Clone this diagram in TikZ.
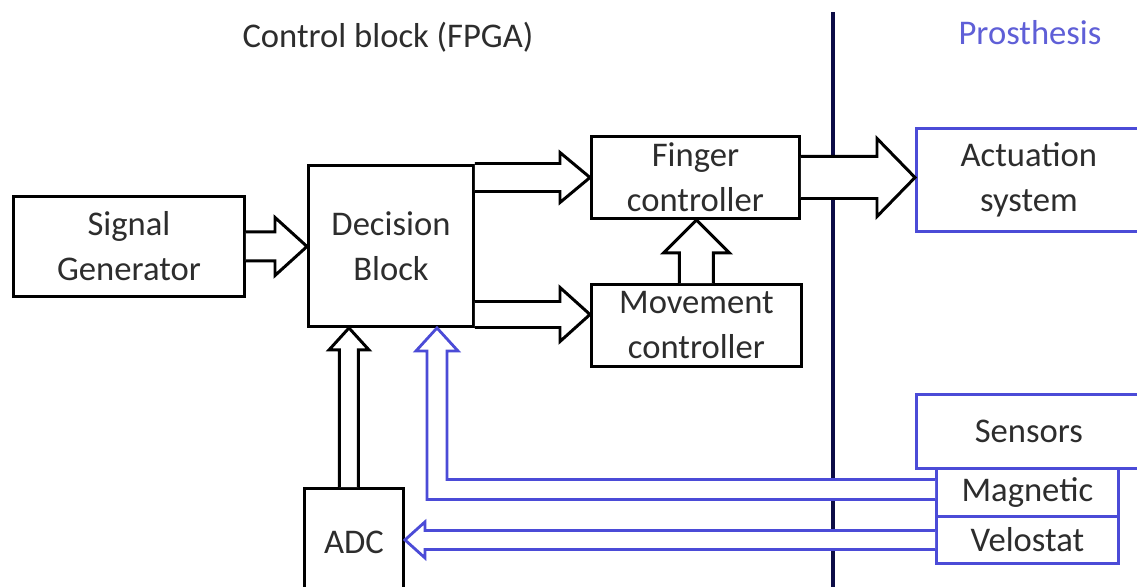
\documentclass[tikz,border=0pt]{standalone}
\usepackage{fontspec}
\setmainfont{Carlito}
\usetikzlibrary{calc}
\definecolor{txt}{RGB}{45,45,45}
\definecolor{bl}{RGB}{75,75,215}
\definecolor{navy}{RGB}{12,12,70}
\definecolor{ptxt}{RGB}{95,95,215}
\newcommand\hollowH[6]{\draw[#1] ($(#2)+(0,{-(#4)})$) -- ($(#3)+({-(#6)},{-(#4)})$) -- ($(#3)+({-(#6)},{-(#5)})$) -- (#3) -- ($(#3)+({-(#6)},{#5})$) -- ($(#3)+({-(#6)},{#4})$) -- ($(#2)+(0,{#4})$);}
\newcommand\hollowV[6]{\draw[#1] ($(#2)+({-(#4)},0)$) -- ($(#3)+({-(#4)},{#6})$) -- ($(#3)+({-(#5)},{#6})$) -- (#3) -- ($(#3)+({#5},{#6})$) -- ($(#3)+({#4},{#6})$) -- ($(#2)+({#4},0)$);}
\tikzset{
  box/.style={draw=black, line width=1.7pt, align=center, inner sep=0pt, text=txt,
    font=\fontsize{19.7}{25.6}\selectfont, anchor=north west},
  bbox/.style={box, draw=bl, line width=1.6pt},
  ttl/.style={inner sep=0pt, text=txt, font=\fontsize{19.7}{25.6}\selectfont},
  harr/.style={draw=black, fill=white, line width=1.7pt, line join=miter},
  barr/.style={draw=bl, fill=white, line width=1.6pt, line join=miter},
}
\begin{document}
\begin{tikzpicture}[x=0.02cm,y=-0.02cm]
\useasboundingbox (0,0) rectangle (1137,586);
\clip (0,0) rectangle (1137,586);
\fill[white] (0,0) rectangle (1137,586);
% divider
\draw[navy, line width=2.4pt] (833,12) -- (833,600);
% titles
\node[ttl] (t1) at (388,37) {Control block (FPGA)};
\node[ttl, text=ptxt] (t2) at (1030,33) {Prosthesis};
% boxes
\node[box, minimum width=4.62cm, minimum height=2cm] (sig) at (12,195) {Signal\\Generator};
\node[box, minimum width=3.3cm, minimum height=3.22cm] (dec) at (307,164) {Decision\\Block};
\node[box, minimum width=4.16cm, minimum height=1.64cm] (fin) at (590,135) {Finger\\controller};
\node[box, minimum width=4.2cm, minimum height=1.64cm] (mov) at (590,283) {Movement\\controller};
\node[box, minimum width=1.98cm, minimum height=2.16cm] (adc) at (303,487) {ADC};
\node[bbox, minimum width=4.5cm, minimum height=2.06cm] (act) at (915,127) {Actuation\\system};
\node[bbox, minimum width=4.5cm, minimum height=1.48cm] (sen) at (915,393) {Sensors};
\node[bbox, minimum width=3.64cm, minimum height=0.96cm] (mag) at (935,467) {Magnetic};
\node[bbox, minimum width=3.64cm, minimum height=0.94cm] (vel) at (935,515) {Velostat};
% helper coordinates
\coordinate (mt) at ($(mov.west)+(0,-11)$);
\coordinate (at) at ($(adc.north)+(-5,0)$);
\coordinate (mtip) at ($(dec.south)+(46,0)$);
\coordinate (mbase) at ($(mag.west)+(0,-3)$);
% black hollow arrows
\hollowH{harr}{sig.east}{dec.west|-sig.east}{14.5}{29}{32}
\hollowH{harr}{dec.east|-fin.west}{fin.west}{14}{25}{30}
\hollowH{harr}{dec.east|-mt}{mt}{13}{27}{30}
\hollowH{harr}{fin.east}{act.west|-fin.east}{21}{39}{38}
\hollowV{harr}{mov.north}{fin.south-|mov.north}{17}{33}{33}
\hollowV{harr}{at}{dec.south-|at}{9.5}{20}{22}
% blue hollow arrows
\hollowH{barr}{vel.west}{adc.east|-vel.west}{9.5}{18}{-20}
\draw[barr] ($(mbase)+(0,-10)$) -- ($(mtip|-mbase)+(10,-10)$) -- ($(mtip)+(10,23)$) -- ($(mtip)+(21,23)$) -- (mtip) -- ($(mtip)+(-21,23)$) -- ($(mtip)+(-10,23)$) -- ($(mtip|-mbase)+(-10,10)$) -- ($(mbase)+(0,10)$);
\end{tikzpicture}
\end{document}
